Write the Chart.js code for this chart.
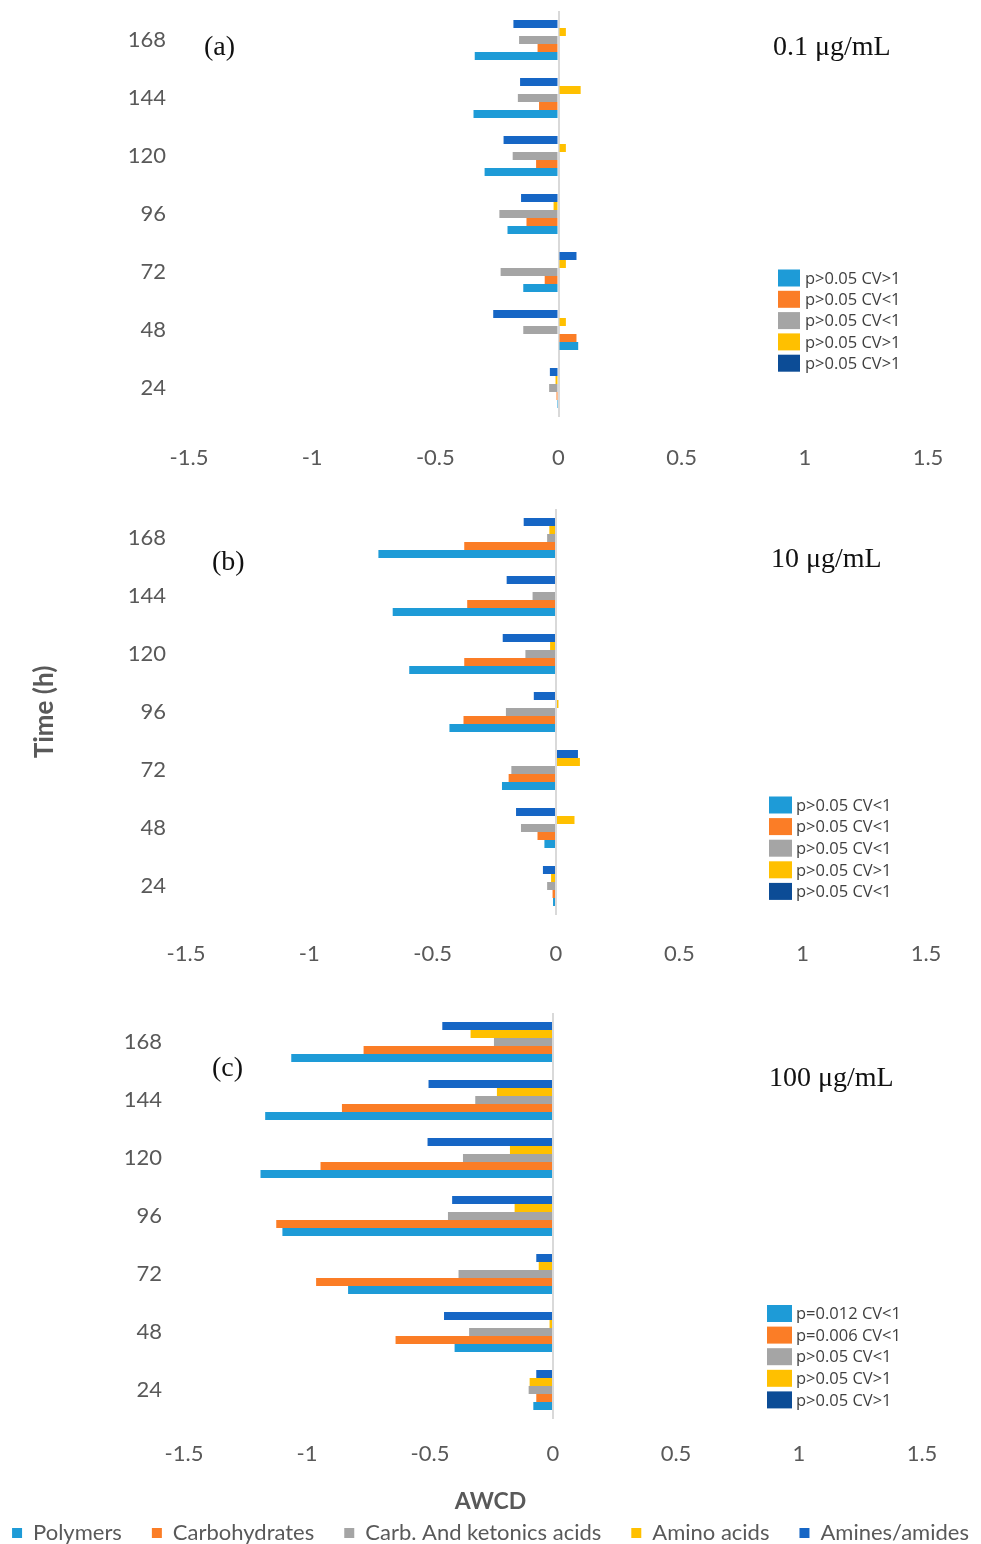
<!DOCTYPE html>
<html>
<head>
<meta charset="utf-8">
<script src="https://cdn.jsdelivr.net/npm/chart.js@4.4.1/dist/chart.umd.min.js"></script>
<style>
html,body{margin:0;padding:0;background:#fff;overflow:hidden;width:981px;height:1544px;}
#wrap{position:relative;width:981px;height:1544px;overflow:hidden;background:#fff;}
canvas{position:absolute;}
</style>
</head>
<body>
<div id="wrap">
<canvas id="chartA" width="981" height="510" style="left:0px;top:-30px;width:981px;height:510px"></canvas>
<canvas id="chartB" width="981" height="510" style="left:0px;top:470px;width:981px;height:510px"></canvas>
<canvas id="chartC" width="1101" height="584" style="left:-60px;top:970px;width:1101px;height:584px"></canvas>
</div>
<script>
// ---- data ----
const hours = ['168', '144', '120', '96', '72', '48', '24'];
const seriesNames = ['Polymers', 'Carbohydrates', 'Carb. And ketonics acids', 'Amino acids', 'Amines/amides'];
const xTickLabels = ['-1.5', '-1', '-0.5', '0', '0.5', '1', '1.5'];
const xTickMin = -1.5, xTickMax = 1.5, xTickStep = 0.5;

// (a) 0.1 ug/mL
const polymersA      = [-0.340, -0.345, -0.300, -0.207, -0.143,  0.080, -0.002];
const carbohydratesA = [-0.085, -0.079, -0.091, -0.130, -0.056,  0.073, -0.008];
const carbKetonicA   = [-0.160, -0.165, -0.186, -0.240, -0.235, -0.143, -0.038];
const aminoAcidsA    = [ 0.030,  0.090,  0.030, -0.020,  0.030,  0.030, -0.012];
const aminesA        = [-0.183, -0.156, -0.223, -0.152,  0.073, -0.265, -0.035];

// (b) 10 ug/mL
const polymersB      = [-0.720, -0.662, -0.595, -0.432, -0.219, -0.047, -0.012];
const carbohydratesB = [-0.372, -0.360, -0.372, -0.375, -0.192, -0.075, -0.014];
const carbKetonicB   = [-0.036, -0.095, -0.124, -0.203, -0.181, -0.142, -0.036];
const aminoAcidsB    = [-0.027,  0.000, -0.024,  0.010,  0.097,  0.075, -0.020];
const aminesB        = [-0.131, -0.200, -0.216, -0.090,  0.089, -0.162, -0.053];

// (c) 100 ug/mL
const polymersC      = [-1.064, -1.170, -1.189, -1.100, -0.833, -0.400, -0.080];
const carbohydratesC = [-0.770, -0.858, -0.945, -1.125, -0.963, -0.640, -0.068];
const carbKetonicC   = [-0.240, -0.316, -0.366, -0.427, -0.384, -0.341, -0.099];
const aminoAcidsC    = [-0.335, -0.228, -0.175, -0.156, -0.058, -0.014, -0.095];
const aminesC        = [-0.450, -0.506, -0.510, -0.410, -0.068, -0.443, -0.068];

const pLabelsA = ['p>0.05 CV>1', 'p>0.05 CV<1', 'p>0.05 CV<1', 'p>0.05 CV>1', 'p>0.05 CV>1'];
const pLabelsB = ['p>0.05 CV<1', 'p>0.05 CV<1', 'p>0.05 CV<1', 'p>0.05 CV>1', 'p>0.05 CV<1'];
const pLabelsC = ['p=0.012 CV<1', 'p=0.006 CV<1', 'p>0.05 CV<1', 'p>0.05 CV>1', 'p>0.05 CV>1'];

// ---- styles ----
const barColors = ['#1E9BD7', '#FB7D26', '#A5A5A5', '#FFC000', '#1666C5'];
const keyColors = ['#1E9BD7', '#FB7D26', '#A5A5A5', '#FFC000', '#0C4C96'];
const tickColor = '#595959';

function notesPlugin(n) {
  return {
    id: 'notes' + n.key,
    afterDraw(chart) {
      const ctx = chart.ctx;
      const ox = n.canvasLeft, oy = n.canvasTop;
      ctx.save();
      ctx.textBaseline = 'middle';
      ctx.textAlign = 'left';
      ctx.fillStyle = '#111111';
      ctx.font = '28px "Liberation Serif"';
      ctx.fillText(n.letter, n.letterX - ox, n.letterY - oy);
      ctx.fillText(n.conc, n.concX - ox, n.concY - oy);
      ctx.font = '16.5px "Open Sans"';
      n.pLabels.forEach((t, i) => {
        const y = n.pY + i * n.pStep - oy;
        ctx.fillStyle = keyColors[i];
        ctx.fillRect(n.boxX - ox, y - n.boxH / 2, n.boxW, n.boxH);
        ctx.fillStyle = '#404040';
        ctx.fillText(t, n.textX - ox, y + 1);
      });
      if (n.awcd) {
        ctx.textAlign = 'center';
        ctx.fillStyle = tickColor;
        ctx.font = 'bold 23px Lato';
        ctx.fillText(n.awcd, n.awcdX - ox, n.awcdY - oy);
      }
      ctx.restore();
    }
  };
}

function makeChart(id, series, o) {
  const order = [4, 3, 2, 1, 0]; // top bar in each group first
  const datasets = order.map(i => ({
    label: seriesNames[i],
    data: series[i],
    backgroundColor: barColors[i],
    borderWidth: 0,
    xAxisID: 'x',
    yAxisID: 'y'
  }));
  return new Chart(document.getElementById(id), {
    type: 'bar',
    data: { labels: hours, datasets },
    options: {
      indexAxis: 'y',
      responsive: false,
      animation: false,
      devicePixelRatio: 1,
      layout: { padding: { top: o.padTop, right: 0, bottom: 0, left: 0 } },
      datasets: { bar: { categoryPercentage: 0.69, barPercentage: 1.0 } },
      scales: {
        x: {
          type: 'linear',
          min: xTickMin, max: xTickMax,
          ticks: {
            stepSize: xTickStep, padding: o.xPad, color: tickColor, font: { family: 'Lato', size: 22 },
            callback: (v, i) => xTickLabels[i]
          },
          grid: {
            drawTicks: false,
            color: c => (c.tick && c.tick.value === 0) ? '#D9D9D9' : 'rgba(0,0,0,0)',
            lineWidth: 2
          },
          border: { display: false },
          afterFit: s => { s.height = o.xH; }
        },
        y: {
          type: 'category',
          ticks: { padding: o.yPad, color: tickColor, font: { family: 'Lato', size: 22 } },
          grid: { display: false, drawTicks: false },
          border: { display: false },
          title: o.yTitle || { display: false },
          afterFit: s => { s.width = o.yW; }
        },
        yR: {
          type: 'category',
          position: 'right',
          ticks: { display: false },
          grid: { display: false, drawTicks: false },
          border: { display: false },
          afterFit: s => { s.width = o.rightW; }
        }
      },
      plugins: {
        legend: o.legend || { display: false },
        tooltip: { enabled: false },
        title: { display: false }
      }
    },
    plugins: [notesPlugin(o.notes)]
  });
}

makeChart('chartA', [polymersA, carbohydratesA, carbKetonicA, aminoAcidsA, aminesA], {
  padTop: 41, xH: 63, xPad: 28, yW: 189, yPad: 23, rightW: 53,
  notes: { key: 'A', canvasLeft: 0, canvasTop: -30, letter: '(a)', letterX: 204, letterY: 48,
    conc: '0.1 \u03bcg/mL', concX: 773, concY: 48, pLabels: pLabelsA,
    boxX: 778, boxW: 22, boxH: 17, textX: 805, pY: 278, pStep: 21.3 }
});

makeChart('chartB', [polymersB, carbohydratesB, carbKetonicB, aminoAcidsB, aminesB], {
  padTop: 39, xH: 65, xPad: 26, yW: 186, yPad: 20, rightW: 55,
  yTitle: { display: true, text: 'Time (h)', color: tickColor, font: { family: 'Lato', size: 26, weight: 'bold' }, padding: { top: 29, bottom: 0 } },
  notes: { key: 'B', canvasLeft: 0, canvasTop: 470, letter: '(b)', letterX: 212, letterY: 563,
    conc: '10 \u03bcg/mL', concX: 771, concY: 560, pLabels: pLabelsB,
    boxX: 769, boxW: 23, boxH: 17, textX: 796, pY: 805, pStep: 21.6 }
});

makeChart('chartC', [polymersC, carbohydratesC, carbKetonicC, aminoAcidsC, aminesC], {
  padTop: 43, xH: 73, xPad: 22, yW: 244, yPad: 22, rightW: 119,
  legend: { display: true, position: 'bottom', reverse: true,
    labels: { boxWidth: 10, boxHeight: 10, padding: 30, color: tickColor, font: { family: 'Lato', size: 22 } } },
  notes: { key: 'C', canvasLeft: -60, canvasTop: 970, letter: '(c)', letterX: 212, letterY: 1069,
    conc: '100 \u03bcg/mL', concX: 769, concY: 1079, pLabels: pLabelsC,
    boxX: 767, boxW: 25, boxH: 17, textX: 796, pY: 1313.5, pStep: 21.6,
    awcd: 'AWCD', awcdX: 490.5, awcdY: 1502 }
});
</script>
</body>
</html>
